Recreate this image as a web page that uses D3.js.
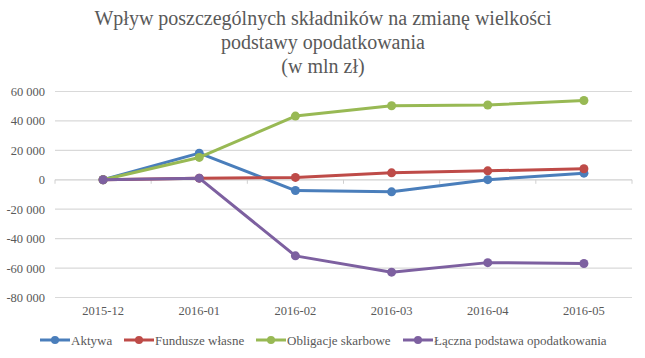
<!DOCTYPE html>
<html><head><meta charset="utf-8">
<script src="https://cdn.jsdelivr.net/npm/d3@7"></script>
<style>body{margin:0;background:#fff}svg{display:block}
svg text{font-family:"Liberation Serif","Times New Roman","DejaVu Serif",serif;}
</style>
</head><body>
<script>
const categories = ["2015-12","2016-01","2016-02","2016-03","2016-04","2016-05"];
const seriesNames = ["Aktywa","Fundusze własne","Obligacje skarbowe","Łączna podstawa opodatkowania"];
const aktywa = [0, 18100, -7300, -8200, 100, 4500];
const fundusze = [0, 1100, 1600, 4700, 6100, 7500];
const obligacje = [0, 15200, 43300, 50300, 50800, 53900];
const laczna = [0, 1100, -51700, -62800, -56300, -56900];
const yTicks = [-80000,-60000,-40000,-20000,0,20000,40000,60000];
const titleLines = ["Wpływ poszczególnych składników na zmianę wielkości","podstawy opodatkowania","(w mln zł)"];
const colors = ["#4a7ebb","#be4b48","#98b954","#7d60a0"];
const seriesData = [aktywa, fundusze, obligacje, laczna];

const W=645,H=358;
const svg=d3.select("body").append("svg").attr("width",W).attr("height",H);
const textCol="#595959";

svg.selectAll("text.title").data(titleLines).join("text")
  .attr("x",323).attr("y",(d,i)=>25+i*24)
  .attr("text-anchor","middle").attr("font-size",20)
  .attr("fill",textCol).text(d=>d);

const x=d3.scaleBand().domain(categories).range([55,632]);
const y=d3.scaleLinear().domain([-80000,60000]).range([297.5,91.5]);

const fmt=v=>d3.format(",")(v).replace(/,/g," ").replace("−","-");

svg.append("g").selectAll("line").data(yTicks).join("line")
  .attr("x1",55).attr("x2",632).attr("y1",d=>y(d)).attr("y2",d=>y(d))
  .attr("stroke",d=>d===0?"#d0d0d0":"#d9d9d9").attr("stroke-width",1.2);

const yAxis=d3.axisLeft(y).tickValues(yTicks).tickFormat(fmt).tickSize(0).tickPadding(0);
const gy=svg.append("g").attr("transform","translate(45,0)").call(yAxis);
gy.select(".domain").remove();
gy.selectAll("text").attr("font-size",12.5).attr("fill",textCol);

const bounds=categories.map(c=>x(c)).concat([632]);
svg.append("g").selectAll("line").data(bounds).join("line")
  .attr("x1",d=>d).attr("x2",d=>d).attr("y1",y(0)).attr("y2",y(0)+4)
  .attr("stroke","#d0d0d0").attr("stroke-width",1);

const xAxis=d3.axisBottom(x).tickSize(0).tickPadding(0);
const gx=svg.append("g").attr("transform","translate(0,304)").call(xAxis);
gx.select(".domain").remove();
gx.selectAll("text").attr("font-size",12.5).attr("fill",textCol).attr("dy","0.9em");

const cx=c=>x(c)+x.bandwidth()/2;
const line=d3.line().x((d,i)=>cx(categories[i])).y(d=>y(d));
seriesData.forEach((arr,k)=>{
  const g=svg.append("g");
  g.append("path").datum(arr).attr("d",line).attr("fill","none")
    .attr("stroke",colors[k]).attr("stroke-width",3).attr("stroke-linejoin","round");
  g.selectAll("circle").data(arr).join("circle")
    .attr("cx",(d,i)=>cx(categories[i])).attr("cy",d=>y(d)).attr("r",4.5).attr("fill",colors[k]);
});

const legX=[40,124,256,403];
const leg=svg.append("g");
seriesNames.forEach((n,k)=>{
  const g=leg.append("g").attr("transform",`translate(${legX[k]},340)`);
  g.append("line").attr("x1",0).attr("x2",30).attr("stroke",colors[k]).attr("stroke-width",3);
  g.append("circle").attr("cx",15).attr("r",4).attr("fill",colors[k]);
  g.append("text").attr("x",31).attr("dy","0.35em").attr("font-size",13)
    .attr("fill",textCol).text(n);
});
</script>
</body></html>
